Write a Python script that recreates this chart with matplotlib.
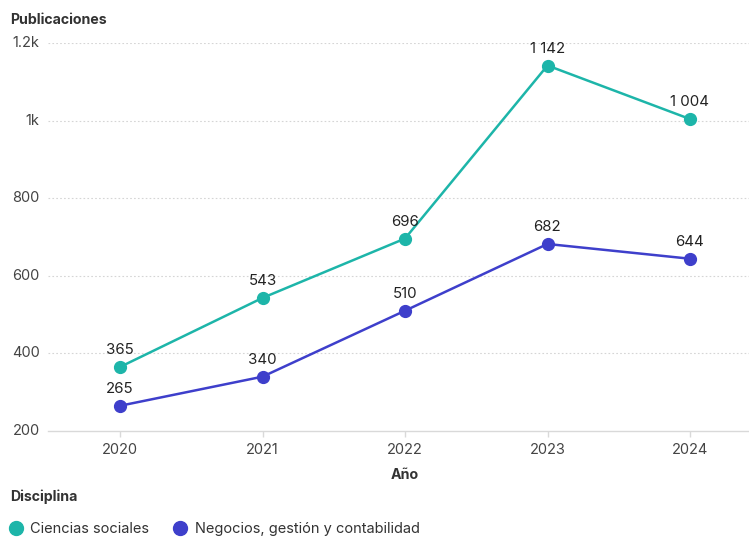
import matplotlib
matplotlib.use("Agg")
import matplotlib.pyplot as plt
from matplotlib.lines import Line2D

years = [2020, 2021, 2022, 2023, 2024]
ciencias = [365, 543, 696, 1142, 1004]
negocios = [265, 340, 510, 682, 644]
series_names = ["Ciencias sociales", "Negocios, gestión y contabilidad"]
colors = ["#1db5a9", "#3e3fcb"]
yticks = [200, 400, 600, 800, 1000, 1200]
ytick_labels = ["200", "400", "600", "800", "1k", "1.2k"]

plt.rcParams['font.family'] = ['Inter', 'DejaVu Sans']

W, H = 749, 537
fig = plt.figure(figsize=(W/100, H/100), dpi=100)
ax = fig.add_axes([48/W, (H-431)/H, (W-48)/W, (431-43)/H])

xs = list(range(len(years)))
for vals, c in zip([ciencias, negocios], colors):
    ax.plot(xs, vals, color=c, lw=1.8, marker='o', ms=8.5, zorder=3)
    for x, v in zip(xs, vals):
        lab = f"{v:,}".replace(",", " ")
        ax.annotate(lab, (x, v), xytext=(0, 7), textcoords='offset points',
                    ha='center', va='bottom', fontsize=10.8, color='#222222', zorder=4)

ax.set_xlim(-72/142.5, 4 + 59/142.5)
ax.set_ylim(200, 1200)
ax.set_xticks(xs)
ax.set_xticklabels([str(y) for y in years])
ax.set_yticks(yticks)
ax.set_yticklabels(ytick_labels)
for y in yticks[1:]:
    ax.axhline(y, color='#d5d5d5', lw=0.8, ls=(0, (1.5, 2)), zorder=1)
for s in ['top', 'right', 'left']:
    ax.spines[s].set_visible(False)
ax.spines['bottom'].set_color('#d9d9d9')
ax.spines['bottom'].set_linewidth(1)
ax.tick_params(axis='x', colors='#d9d9d9', length=4, width=1, labelcolor='#444444', labelsize=10.5, pad=5)
ax.tick_params(axis='y', length=0, labelcolor='#444444', labelsize=10.5, pad=6)
for lbl in ax.get_yticklabels():
    lbl.set_verticalalignment('center')

fig.text(10/W, 1 - 20/H, "Publicaciones", fontsize=10.2, fontweight='bold', color='#333333', va='center', ha='left')
fig.text(405/W, 1 - 475/H, "Año", fontsize=10.2, fontweight='bold', color='#333333', va='center', ha='center')
fig.text(10/W, 1 - 497/H, "Disciplina", fontsize=10.2, fontweight='bold', color='#333333', va='center', ha='left')

handles = [Line2D([], [], ls='none', marker='o', ms=10, color=c) for c in colors]
leg = fig.legend(handles, series_names, loc='center left', bbox_to_anchor=(10/W, 1 - 529/H),
                 ncol=2, frameon=False, fontsize=10.5, handlelength=0.8, handletextpad=0.6,
                 columnspacing=1.7, borderaxespad=0, borderpad=0)
for t in leg.get_texts():
    t.set_color('#333333')

fig.savefig("out.png", dpi=100)
